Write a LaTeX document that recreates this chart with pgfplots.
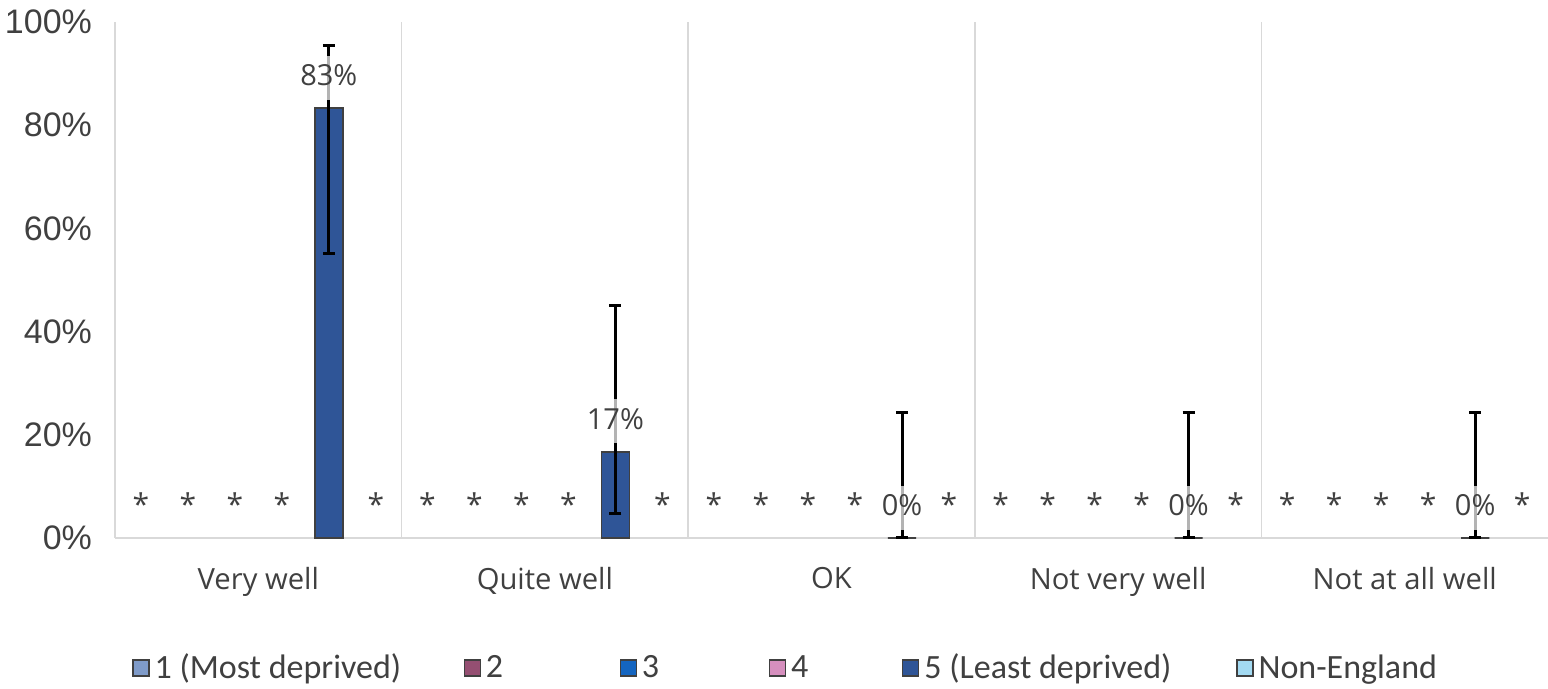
\documentclass[border=0pt]{standalone}
\usepackage{fontspec}
\setmainfont{Open Sans}
\newfontfamily\legfont{Carlito}
\newfontfamily\tickfont{Liberation Sans}
\usepackage{pgfplots}
\pgfplotsset{compat=1.18}
\definecolor{s1}{HTML}{7F9BC9}
\definecolor{s2}{HTML}{954F72}
\definecolor{s3}{HTML}{1465C0}
\definecolor{s4}{HTML}{D68FBE}
\definecolor{s5}{HTML}{2F5597}
\definecolor{s6}{HTML}{A3DAF2}
\definecolor{edgegray}{HTML}{404040}
\definecolor{gridgray}{HTML}{D9D9D9}
\definecolor{textgray}{HTML}{404040}
\begin{document}
\begin{tikzpicture}
\begin{axis}[name=ax,
  scale only axis, width=716.5pt, height=258pt,
  xmin=-0.5, xmax=4.5, ymin=0, ymax=100,
  axis x line*=bottom, axis y line*=left,
  axis line style={draw=gridgray, line width=0.75pt},
  /pgf/number format/assume math mode=true,
  xtick={0,1,2,3,4},
  xticklabels={Very well, Quite well, OK, Not very well, Not at all well},
  major tick length=0pt,
  extra x ticks={0.5,1.5,2.5,3.5},
  extra x tick labels={},
  extra x tick style={grid=major, major grid style={draw=gridgray, line width=0.75pt}},
  ytick={0,20,40,60,80,100},
  yticklabel={\pgfmathprintnumber{\tick}\%},
  y tick label style={font=\tickfont\fontsize{17}{19}\selectfont, text=textgray, xshift=-8pt},
  x tick label style={font=\fontsize{14.6}{17}\selectfont, text=textgray, yshift=-11pt},
  clip=false,
  legend columns=6,
  legend image code/.code={\draw[#1,draw=edgegray,line width=0.6pt] (0pt,-4pt) rectangle (8pt,4pt);},
  legend style={at={(0,0)}, anchor=west, xshift=8.5pt, yshift=-65pt, draw=none, inner sep=0pt,
    font=\legfont\fontsize{17}{19}\selectfont, text=textgray,
    nodes={inner sep=0pt},
    /tikz/every odd column/.style={column sep=2.5pt},
    /tikz/every even column/.style={column sep=0pt}},
]
\addlegendimage{fill=s1}
\addlegendentry{\makebox[154.5pt][l]{1 (Most deprived)}}
\addlegendimage{fill=s2}
\addlegendentry{\makebox[67pt][l]{2}}
\addlegendimage{fill=s3}
\addlegendentry{\makebox[63.5pt][l]{3}}
\addlegendimage{fill=s4}
\addlegendentry{\makebox[55.5pt][l]{4}}
\addlegendimage{fill=s5}
\addlegendentry{\makebox[156pt][l]{5 (Least deprived)}}
\addlegendimage{fill=s6}
\addlegendentry{Non-England}

% series 5 bars with error bars
\addplot[ybar, bar width=0.098, bar shift=0pt, fill=s5, draw=edgegray, line width=0.75pt, forget plot,
  error bars/.cd, y dir=both, y explicit,
  error bar style={line width=1.5pt, black},
  error mark options={rotate=90, mark size=3pt, line width=1.5pt, black}]
coordinates {
  (0.246,83.3) += (0,12.2) -= (0,28.1)
  (1.246,16.7) += (0,28.3) -= (0,12.0)
  (2.246,0) += (0,24.4) -= (0,0)
  (3.246,0) += (0,24.4) -= (0,0)
  (4.246,0) += (0,24.4) -= (0,0)
};

% data labels for series 5
\addplot[draw=none, mark=none, forget plot, point meta=y,
  nodes near coords={\pgfmathprintnumber[fixed,precision=0]{\pgfplotspointmeta}\%},
  every node near coord/.style={fill=white, fill opacity=0.7, text opacity=1, text=textgray,
    font=\fontsize{14.5}{16}\selectfont, inner xsep=1pt, inner ysep=5pt, text height=10pt, text depth=2pt,
    anchor=south, yshift=4pt}]
coordinates {(0.246,83.3) (1.246,16.7) (2.246,0) (3.246,0) (4.246,0)};

% asterisks for suppressed series
\addplot[draw=none, mark=none, forget plot,
  nodes near coords={*},
  every node near coord/.style={text=textgray,
    font=\fontsize{15}{17}\selectfont, inner xsep=1pt, inner ysep=5pt, text height=10pt, text depth=2pt,
    anchor=south, yshift=4pt}]
coordinates {
  (-0.41,0) (-0.246,0) (-0.082,0) (0.082,0) (0.41,0)
  (0.59,0) (0.754,0) (0.918,0) (1.082,0) (1.41,0)
  (1.59,0) (1.754,0) (1.918,0) (2.082,0) (2.41,0)
  (2.59,0) (2.754,0) (2.918,0) (3.082,0) (3.41,0)
  (3.59,0) (3.754,0) (3.918,0) (4.082,0) (4.41,0)
};
\end{axis}
\pgfresetboundingbox
\path ([xshift=-57.5pt,yshift=-75.5pt]ax.south west) rectangle ([yshift=11pt]ax.north east);
\end{tikzpicture}
\end{document}
